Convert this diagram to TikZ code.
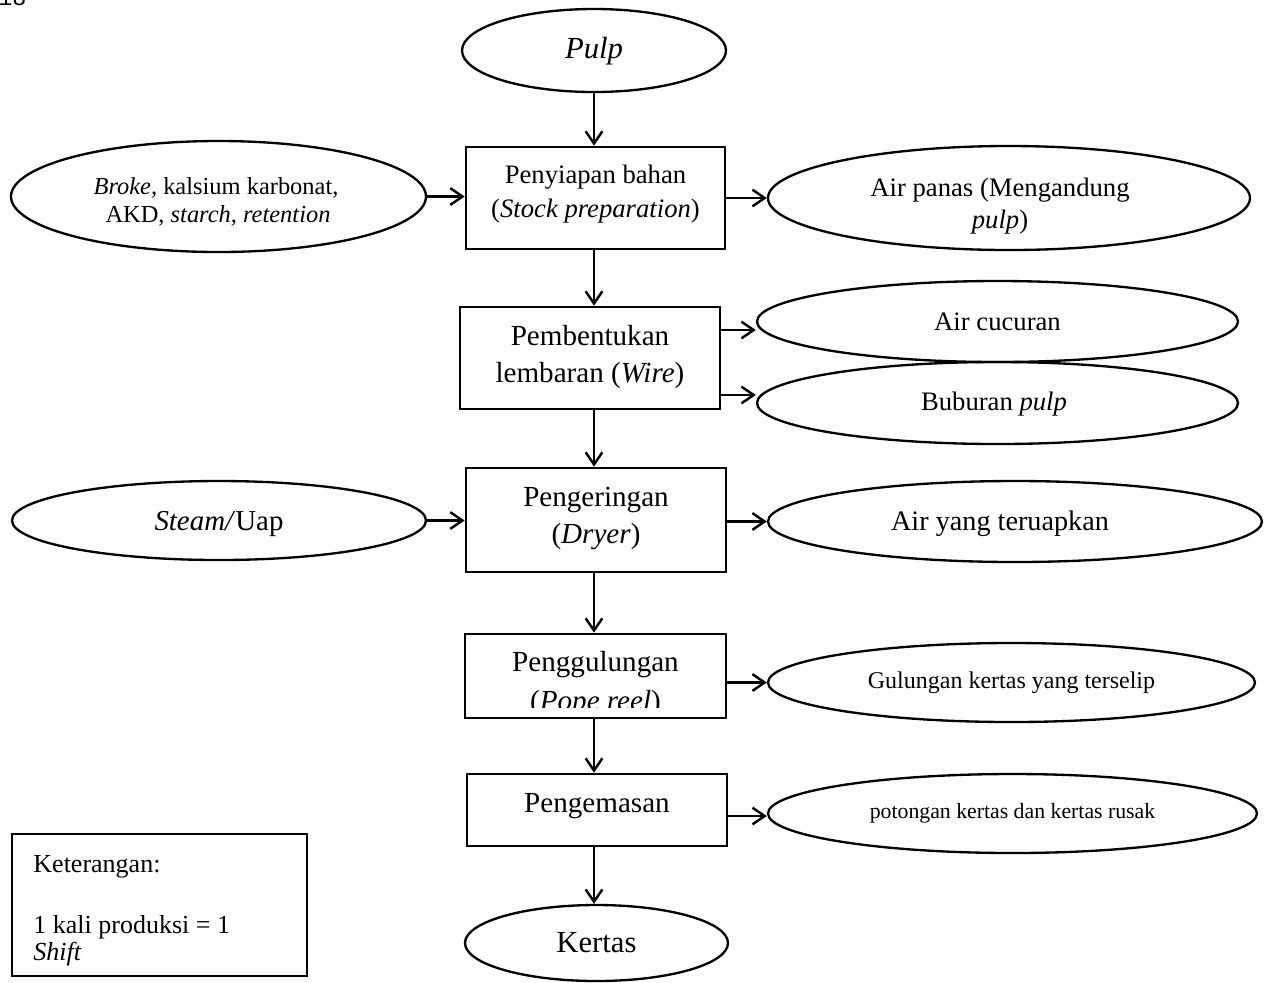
\documentclass[tikz,border=0pt]{standalone}
\usepackage{fontspec}
\setmainfont{Liberation Serif}
\newfontfamily\pagemono{Liberation Mono}
\usetikzlibrary{shapes.geometric,arrows.meta}

\newcommand\fs[2]{\fontsize{#1}{#2}\selectfont}

\tikzset{
  px/.style 2 args={minimum width=#1*0.45pt, minimum height=#2*0.45pt},
  procbox/.style={draw, line width=1.2pt, rectangle, inner sep=0pt},
  oval/.style={draw, line width=1.05pt, ellipse, inner sep=0pt, align=center},
  flow/.style={line width=1.1pt, -{Straight Barb[length=5.5pt,width=7.5pt]}},
  line/.style={anchor=base, inner sep=0pt},
  boxfont/.style={font=\fs{13.1}{16.6}},
}

\begin{document}
\begin{tikzpicture}[x=0.45pt, y=-0.45pt]
\useasboundingbox (0,0) rectangle (1264,982);

% page number of the source page
\node[anchor=base west, inner sep=0pt, font=\pagemono\fs{10.5}{12}] (pageno) at (-2,5) {18};

% vertical spine of the main process
\coordinate (sp) at (594,0);

% ---- start and end products
\node[oval, px={264}{83}] (pulp) at (594,50.5) {};
\node[line, font=\fs{13.8}{16}] (pulpt) at (594,58) {\textit{Pulp}};
\node[oval, px={263}{76}, font=\fs{13.8}{16}] (kertas) at (596.5,943) {Kertas};

% ---- process boxes
\node[procbox, px={259}{102}] (b1) at (595.5,198) {};
\node[procbox, px={260}{102}] (b2) at (590,358) {};
\node[procbox, px={260}{104}] (b3) at (596,520) {};
\node[procbox, px={261}{84}]  (b4) at (595.5,676) {};
\node[procbox, px={260}{72}]  (b5) at (597,810) {};

% box texts
\node[line, font=\fs{12}{15}] (b1a) at (595.5,183) {Penyiapan bahan};
\node[line, font=\fs{12}{15}] (b1b) at (595.5,217) {(\textit{Stock preparation})};
\node[line, boxfont] (b2a) at (590,345) {Pembentukan};
\node[line, boxfont] (b2b) at (590,382) {lembaran (\textit{Wire})};
\node[line, boxfont] (b3a) at (596,506) {Pengeringan};
\node[line, boxfont] (b3b) at (596,543) {(\textit{Dryer})};
\node[line, boxfont] (b4a) at (595.5,671) {Penggulungan};
\begin{scope}
  \clip (466,640) rectangle (725,707);
  \node[line, boxfont] (b4b) at (595.5,710) {(\textit{Pope reel})};
\end{scope}
\node[line, boxfont] (b5a) at (597,812) {Pengemasan};

% ---- inputs (left)
\node[oval, px={415}{111}] (broke) at (218.5,196.5) {};
\node[line, font=\fs{11}{13}] (brokea) at (216,194) {\textit{Broke,} kalsium karbonat,};
\node[line, font=\fs{11}{13}] (brokeb) at (218,222) {AKD, \textit{starch, retention}};
\node[oval, px={414}{79}] (steam) at (219,520.5) {};
\node[line, font=\fs{13}{15}] (steamt) at (219,530) {\textit{Steam/}Uap};

% ---- outputs (right)
\node[oval, px={482}{104}] (panas) at (1009,198) {};
\node[line, font=\fs{12}{14.4}] (panasa) at (1000,196) {Air panas (Mengandung};
\node[line, font=\fs{12}{14.4}] (panasb) at (1000,228) {\textit{pulp})};
\node[oval, px={481}{81}, font=\fs{12}{14}] (cucuran) at (997.5,321.5) {Air cucuran};
\node[oval, px={481}{82}, font=\fs{12}{14}] (bubur) at (997.5,403) {};
\node[line, font=\fs{12}{14}] (bubt) at (994,410) {Buburan \textit{pulp}};
\node[oval, px={494}{81}] (uap) at (1015,521.5) {};
\node[line, font=\fs{12.7}{15}] (uapt) at (1000,530) {Air yang teruapkan};
\node[oval, px={487}{79}, font=\fs{10.8}{13}] (gulung) at (1011.5,682.5) {Gulungan kertas yang terselip};
\node[oval, px={489}{79}, font=\fs{9.8}{12}] (potong) at (1012.5,813.5) {potongan kertas dan kertas rusak};

% ---- legend
\node[procbox, px={295}{142}] (legend) at (159.5,905) {};
\node[anchor=base west, inner sep=0pt, font=\fs{11.7}{14}] (lg1) at (33,872) {Keterangan:};
\node[anchor=base west, inner sep=0pt, font=\fs{11.7}{14}] (lg2) at (33,933) {1 kali produksi = 1};
\node[anchor=base west, inner sep=0pt, font=\fs{11.7}{14}] (lg3) at (33,960) {\textit{Shift}};

% ---- main flow
\draw[flow] (pulp.south -| sp) -- (b1.north -| sp);
\draw[flow] (b1.south -| sp) -- (b2.north -| sp);
\draw[flow] (b2.south -| sp) -- (b3.north -| sp);
\draw[flow] (b3.south -| sp) -- (b4.north -| sp);
\draw[flow] (b4.south -| sp) -- (b5.north -| sp);
\draw[flow] (b5.south -| sp) -- (kertas.north -| sp);

% ---- side flows
\coordinate (r1) at (0,330);
\coordinate (r2) at (0,395);
\coordinate (r5) at (0,816);
\draw[flow] (broke.east) -- (broke.east -| b1.west);
\draw[flow] (b1.east) -- (b1.east -| panas.west);
\draw[flow] (b2.east |- r1) -- (cucuran.west |- r1);
\draw[flow] (b2.east |- r2) -- (bubur.west |- r2);
\draw[flow] (steam.east) -- (steam.east -| b3.west);
\draw[flow] (b3.east |- uap.west) -- (uap.west);
\draw[flow] (b4.east |- gulung.west) -- (gulung.west);
\draw[flow] (b5.east |- r5) -- (potong.west |- r5);
\end{tikzpicture}
\end{document}
